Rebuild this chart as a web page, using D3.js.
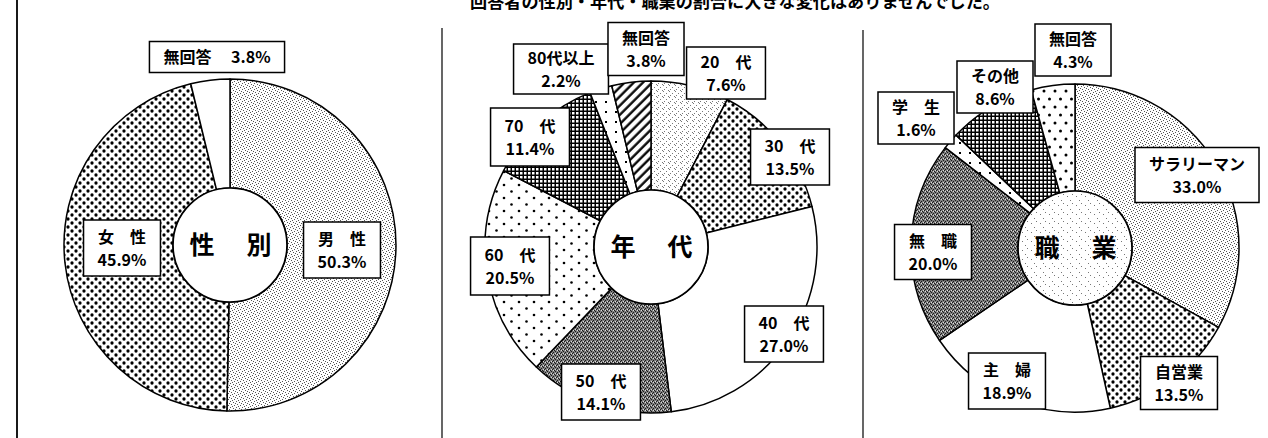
<!DOCTYPE html>
<html>
<head>
<meta charset="utf-8">
<title>性別・年代・職業</title>
<style>
    body { margin: 0; background: #fff; }
    svg { display: block; }
    text { font-family: "Noto Sans CJK JP", "Noto Sans", sans-serif; font-weight: bold; fill: #000; }
</style>
<script src="https://d3js.org/d3.v7.min.js"></script>
</head>
<body>
<svg id="chart" width="1268" height="438"></svg>
<script>
// --- data ---
const sexLabels = ["男　性", "女　性", "無回答"];
const sexValues = [50.3, 45.9, 3.8];

const ageLabels = ["20　代", "30　代", "40　代", "50　代", "60　代", "70　代", "80代以上", "無回答"];
const ageValues = [7.6, 13.5, 27.0, 14.1, 20.5, 11.4, 2.2, 3.8];

const jobLabels = ["サラリーマン", "自営業", "主　婦", "無　職", "学　生", "その他", "無回答"];
const jobValues = [33.0, 13.5, 18.9, 20.0, 1.6, 8.6, 4.3];

const centerTitles = [["性", "別"], ["年", "代"], ["職", "業"]];
const headline = "回答者の性別・年代・職業の割合に大きな変化はありませんでした。";

// --- layout (label box centres relative to pie centre, box heights) ---
const sexBoxes = [[112, 5], [-108, 3], [-13, -188]];
const ageBoxes = [[75, -174], [139, -90], [133, 87], [-50, 145], [-141, 19], [-121, -110], [-90, -178], [-5, -198]];
const jobBoxes = [[122, -73], [104, 135], [-68, 133], [-142, 4], [-159, -130], [-80, -161], [-2, -198]];
const sexBoxH = [56, 56, 31];
const ageBoxH = [52, 56, 56, 56, 58, 58, 50, 53];
const jobBoxH = [55, 53, 56, 55, 52, 52, 52];

const svg = d3.select("#chart");
svg.append("rect").attr("width", 1268).attr("height", 438).attr("fill", "#fff");

// --- fill patterns ---
const defs = svg.append("defs");
function pattern(id, w, h, bg) {
    const p = defs.append("pattern").attr("id", id)
        .attr("patternUnits", "userSpaceOnUse")
        .attr("width", w).attr("height", h);
    p.append("rect").attr("width", w).attr("height", h).attr("fill", bg);
    return p;
}
function pixels(p, list, color, s) {
    list.forEach(q => p.append("rect").attr("x", q[0]).attr("y", q[1])
        .attr("width", s || 1).attr("height", s || 1).attr("fill", color));
}

// light stipple
let p = pattern("light", 6, 6, "#fff");
pixels(p, [[0, 0], [3, 1], [1, 3], [4, 4], [5, 2], [2, 5]], "#555");
// paler stipple
p = pattern("pale", 6, 6, "#fff");
pixels(p, [[0, 0], [3, 2], [1, 4], [5, 5]], "#777");
// dense black dots
p = pattern("dots", 8, 8, "#fff");
p.append("circle").attr("cx", 2).attr("cy", 2).attr("r", 1.65);
p.append("circle").attr("cx", 6).attr("cy", 6).attr("r", 1.65);
// sparse dots
p = pattern("sparse", 15, 13, "#fff");
p.append("circle").attr("cx", 3).attr("cy", 3).attr("r", 1.3);
p.append("circle").attr("cx", 10.5).attr("cy", 9.5).attr("r", 1.3);
// very sparse dots
p = pattern("few", 10, 10, "#fff");
pixels(p, [[4, 4]], "#000", 2);
// column dots
p = pattern("cols", 11, 16, "#fff");
p.append("circle").attr("cx", 2).attr("cy", 3).attr("r", 1.5);
p.append("circle").attr("cx", 7.5).attr("cy", 11).attr("r", 1.5);
// black grid
p = pattern("grid", 4, 4, "#000");
p.append("rect").attr("x", 1).attr("y", 1).attr("width", 2.5).attr("height", 2.5).attr("fill", "#fff");
// diagonal hatch
p = pattern("hatch", 6.5, 6.5, "#fff").attr("patternTransform", "rotate(45)");
p.append("line").attr("x1", 1.5).attr("y1", 0).attr("x2", 1.5).attr("y2", 6.5)
    .attr("stroke", "#000").attr("stroke-width", 2.3);
// dark stipple
p = pattern("dark", 4, 4, "#808080");
pixels(p, [[0, 0], [2, 1], [1, 2], [3, 3]], "#1a1a1a");
pixels(p, [[2, 3], [0, 2]], "#ddd");
// speckled centre
p = pattern("speck", 9, 9, "#fff");
pixels(p, [[1, 2], [6, 0], [4, 6]], "#777");

const fillOf = k => k === "white" ? "#fff" : `url(#${k})`;

const charts = [
    { labels: sexLabels, values: sexValues, boxes: sexBoxes, boxH: sexBoxH, title: centerTitles[0],
      cx: 230, cy: 245, r: 166, hole: "white", single: 2,
      fills: ["light", "dots", "white"] },
    { labels: ageLabels, values: ageValues, boxes: ageBoxes, boxH: ageBoxH, title: centerTitles[1],
      cx: 651, cy: 247, r: 166, hole: "white", single: -1,
      fills: ["pale", "dots", "white", "dark", "sparse", "grid", "few", "hatch"] },
    { labels: jobLabels, values: jobValues, boxes: jobBoxes, boxH: jobBoxH, title: centerTitles[2],
      cx: 1075, cy: 248, r: 164, hole: "speck", single: -1,
      fills: ["light", "dots", "white", "dark", "few", "grid", "cols"] }
];

const holeR = 57;
const fmt = d3.format(".1f");

charts.forEach(c => {
    const g = svg.append("g").attr("transform", `translate(${c.cx},${c.cy})`);
    const arcs = d3.pie().sort(null).value(d => d)(c.values);
    const arc = d3.arc().innerRadius(holeR).outerRadius(c.r);

    g.selectAll("path.slice").data(arcs).join("path")
        .attr("class", "slice")
        .attr("d", arc)
        .attr("fill", (d, i) => fillOf(c.fills[i]))
        .attr("stroke", "#000")
        .attr("stroke-width", 1.5)
        .attr("stroke-linejoin", "round");

    g.append("circle").attr("r", holeR)
        .attr("fill", fillOf(c.hole))
        .attr("stroke", "#000").attr("stroke-width", 1.7);

    g.selectAll("text.title").data(c.title).join("text")
        .attr("class", "title")
        .attr("x", (d, i) => i === 0 ? -28 : 29)
        .attr("y", 9)
        .attr("text-anchor", "middle")
        .attr("font-size", 25)
        .text(d => d);

    // label boxes
    c.labels.forEach((lab, i) => {
        const b = g.append("g").attr("transform", `translate(${c.boxes[i][0]},${c.boxes[i][1]})`);
        const lines = i === c.single ? [lab + "\u3000 " + fmt(c.values[i]) + "%"]
                                     : [lab, fmt(c.values[i]) + "%"];
        const h = c.boxH[i];
        const rect = b.append("rect");
        const ys = lines.length === 1 ? [6] : [-5.5, 17.5];
        const t = b.selectAll("text").data(lines).join("text")
            .attr("y", (d, k) => ys[k])
            .attr("text-anchor", "middle")
            .attr("font-size", 16)
            .attr("xml:space", "preserve")
            .text(d => d);
        let w = 0;
        t.each(function () { w = Math.max(w, this.getComputedTextLength()); });
        w = Math.max(70, w + 28);
        rect.attr("x", -w / 2).attr("y", -h / 2).attr("width", w).attr("height", h)
            .attr("fill", "#fff").attr("stroke", "#000").attr("stroke-width", 1.5);
    });
});

// frame and divider lines
svg.append("line").attr("x1", 17).attr("x2", 17).attr("y1", 0).attr("y2", 438)
    .attr("stroke", "#000").attr("stroke-width", 1.8);
svg.append("line").attr("x1", 442).attr("x2", 442).attr("y1", 28).attr("y2", 438)
    .attr("stroke", "#000").attr("stroke-width", 1.2);
svg.append("line").attr("x1", 863).attr("x2", 863).attr("y1", 30).attr("y2", 438)
    .attr("stroke", "#000").attr("stroke-width", 1.2);

// headline, cut off at the top edge as in the source scan
svg.append("text").attr("x", 470).attr("y", 8)
    .attr("font-size", 17)
    .attr("textLength", 530)
    .attr("lengthAdjust", "spacingAndGlyphs")
    .text(headline);
</script>
</body>
</html>
